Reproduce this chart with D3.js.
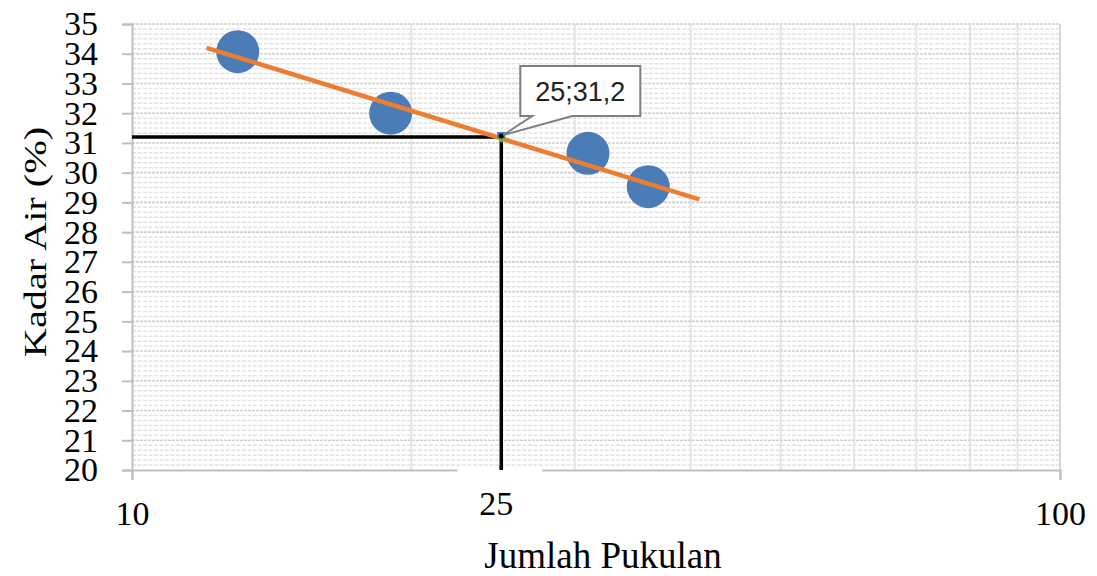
<!DOCTYPE html>
<html><head><meta charset="utf-8">
<script src="https://cdn.jsdelivr.net/npm/d3@7/dist/d3.min.js"></script>
<style>body{margin:0;background:#fff}svg{display:block}</style>
</head><body>
<svg id="c" width="1097" height="576"></svg>
<script>
// Data
const xValues = [13, 19, 31, 36];           // Jumlah Pukulan
const yValues = [34.07, 32.0, 30.65, 29.53]; // Kadar Air (%)
const trendX = [12.03, 40.87];
const trendY = [34.2, 29.1];
const target = {x: 25, y: 31.2};
const targetLabel = "25;31,2";
const yTicks = d3.range(20, 36, 1);
const xMajorTicks = [10, 100];
const xMinorTicks = [20, 30, 40, 50, 60, 70, 80, 90];
const xTitle = "Jumlah Pukulan";
const yTitle = "Kadar Air (%)";

const W = 1097, H = 576;
const m = {l: 132, r: 37, t: 24, b: 106};
const svg = d3.select("#c");
const x = d3.scaleLog().domain([10, 100]).range([m.l, W - m.r]);
const y = d3.scaleLinear().domain([20, 35]).range([H - m.b, m.t]);
const serif = "'Liberation Serif','Times New Roman',serif";

// minor horizontal gridlines
const yMinor = d3.range(20, 35, 1/6).filter(v => Math.abs(v - Math.round(v)) > 1e-6);
svg.append("g").selectAll("line").data(yMinor).join("line")
  .attr("x1", x(10)).attr("x2", x(100)).attr("y1", d => y(d)).attr("y2", d => y(d))
  .attr("stroke", "#e3e3e3").attr("stroke-width", 1.5).attr("stroke-dasharray", "4,1.5");
// vertical gridlines
svg.append("g").selectAll("line").data(xMinorTicks).join("line")
  .attr("x1", d => x(d)).attr("x2", d => x(d)).attr("y1", y(35)).attr("y2", y(20))
  .attr("stroke", "#e4e4e4").attr("stroke-width", 2);
// major horizontal gridlines
svg.append("g").selectAll("line").data(yTicks.filter(v => v > 20)).join("line")
  .attr("x1", x(10)).attr("x2", x(100)).attr("y1", d => y(d)).attr("y2", d => y(d))
  .attr("stroke", "#cfcfcf").attr("stroke-width", 1.6).attr("stroke-dasharray", "3,1");
// right border
svg.append("line").attr("x1", x(100)).attr("x2", x(100)).attr("y1", y(35)).attr("y2", y(20))
  .attr("stroke", "#d6d6d6").attr("stroke-width", 2);

// axes
const ya = svg.append("g").attr("transform", `translate(${m.l},0)`)
  .call(d3.axisLeft(y).tickValues(yTicks).tickSize(10).tickPadding(24).tickFormat(d3.format("d")));
ya.attr("font-family", null).attr("font-size", null);
ya.select(".domain").attr("stroke", "#bfbfbf").attr("stroke-width", 2);
ya.selectAll(".tick line").attr("stroke", "#bfbfbf").attr("stroke-width", 2);
ya.selectAll("text").style("font-family", serif).style("font-size", "34px").attr("fill", "#000");

const xa = svg.append("g").attr("transform", `translate(0,${H - m.b})`)
  .call(d3.axisBottom(x).tickValues(xMajorTicks).tickSize(10).tickPadding(21).tickFormat(d3.format("d")));
xa.attr("font-family", null).attr("font-size", null);
xa.select(".domain").attr("stroke", "#bfbfbf").attr("stroke-width", 2);
xa.selectAll(".tick line").attr("stroke", "#bfbfbf").attr("stroke-width", 2);
xa.selectAll("text").style("font-family", serif).style("font-size", "34px").attr("fill", "#000");

// points
svg.append("g").selectAll("circle").data(xValues).join("circle")
  .attr("cx", d => x(d)).attr("cy", (d, i) => y(yValues[i])).attr("r", 21.5)
  .attr("fill", "#4a7db8");

// reference lines
svg.append("path")
  .attr("d", `M${x(10)},${y(target.y)}H${x(target.x)}V${y(20)}`)
  .attr("fill", "none").attr("stroke", "#000").attr("stroke-width", 3.5);

// trend line
svg.append("line")
  .attr("x1", x(trendX[0])).attr("y1", y(trendY[0])).attr("x2", x(trendX[1])).attr("y2", y(trendY[1]))
  .attr("stroke", "#ed7d31").attr("stroke-width", 4.5);

// white label box for 25
const tx = x(target.x), ty = y(target.y);
svg.append("rect").attr("x", tx - 44).attr("y", y(20) - 1).attr("width", 85).attr("height", 50).attr("fill", "#fff");
svg.append("line").attr("x1", tx).attr("x2", tx).attr("y1", y(20) - 4).attr("y2", y(20)).attr("stroke", "#000").attr("stroke-width", 3.5);
svg.append("text").attr("x", tx - 5).attr("y", y(20) + 45).attr("text-anchor", "middle")
  .style("font-family", serif).style("font-size", "34px").text(target.x);

// target marker
svg.append("path").attr("d", `M${tx-4},${ty+1}L${tx+4},${ty+1}L${tx},${ty+6}Z`).attr("fill", "#70ad47");
svg.append("rect").attr("x", tx - 4).attr("y", ty - 5).attr("width", 8).attr("height", 6).attr("fill", "#4472c4");
svg.append("circle").attr("cx", tx).attr("cy", ty - 1).attr("r", 2.5).attr("fill", "#000");

// callout
const bx = tx + 19, by = ty - 71, bw = 120, bh = 50;
svg.append("path")
  .attr("d", `M${bx},${by}H${bx+bw}V${by+bh}H${bx+52}L${tx+2},${ty-2}L${bx+12},${by+bh}H${bx}Z`)
  .attr("fill", "#fff").attr("stroke", "#7f7f7f").attr("stroke-width", 2);
svg.append("text").attr("x", bx + bw / 2).attr("y", by + bh / 2 + 10).attr("text-anchor", "middle")
  .style("font-family", "'Liberation Sans',Arial,sans-serif").style("font-size", "27px").attr("fill", "#222")
  .text(targetLabel);

// titles
svg.append("text").attr("x", (x(10) + x(100)) / 2 + 7).attr("y", 568).attr("text-anchor", "middle")
  .style("font-family", serif).style("font-size", "37px").text(xTitle);
svg.append("text").attr("transform", `translate(46,${(y(20) + y(35)) / 2 - 5}) rotate(-90) scale(1.3,1)`)
  .attr("text-anchor", "middle").style("font-family", serif).style("font-size", "31px").text(yTitle);
</script>
</body></html>
